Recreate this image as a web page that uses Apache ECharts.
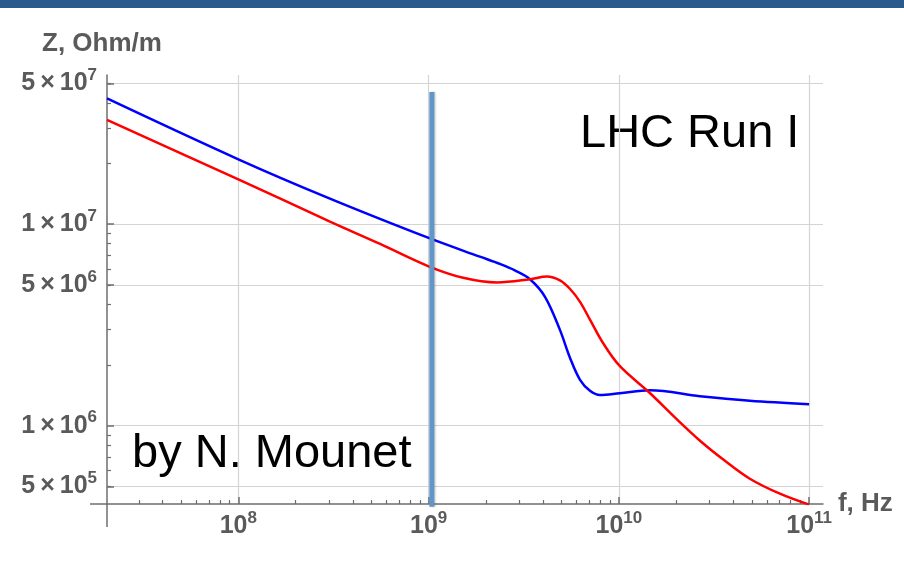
<!DOCTYPE html>
<html>
<head>
<meta charset="utf-8">
<script src="https://cdn.jsdelivr.net/npm/echarts@6.0.0/dist/echarts.min.js"></script>
<style>
  html, body { margin: 0; padding: 0; background: #fff; }
  #chart { width: 904px; height: 564px; }
</style>
</head>
<body>
<div id="chart"></div>
<script>
// 数据 (f in Hz, Z in Ohm/m)
const freqBlue = [2.04e7, 1e8, 3.03e8, 1e9, 1.86e9, 2.37e9, 2.84e9, 3.41e9, 4.09e9, 4.90e9, 5.54e9, 6.25e9, 7.05e9, 7.96e9, 1.01e10, 1.46e10, 2.67e10, 4.88e10, 1e11];
const zBlue = [4.21e7, 2.10e7, 1.34e7, 8.55e6, 6.90e6, 6.35e6, 5.90e6, 5.33e6, 4.36e6, 2.99e6, 2.17e6, 1.69e6, 1.49e6, 1.42e6, 1.45e6, 1.50e6, 1.40e6, 1.33e6, 1.28e6];

const freqRed = [2.04e7, 1e8, 3.03e8, 5.56e8, 1e9, 1.52e9, 2.29e9, 3.41e9, 4.19e9, 4.90e9, 5.54e9, 6.25e9, 7.05e9, 8.24e9, 1.01e10, 1.46e10, 1.97e10, 2.67e10, 3.61e10, 4.88e10, 7.02e10, 1e11];
const zRed = [3.29e7, 1.67e7, 1.03e7, 7.98e6, 6.18e6, 5.42e6, 5.14e6, 5.33e6, 5.50e6, 5.26e6, 4.77e6, 4.12e6, 3.36e6, 2.58e6, 1.98e6, 1.45e6, 1.10e6, 8.43e5, 6.70e5, 5.46e5, 4.60e5, 4.06e5];

// vertical marker near 1 GHz
const markerFreq = [1.04e9, 1.04e9];
const markerZ = [4.53e7, 3.96e5];

// axis ticks
const xTickValues = [1e8, 1e9, 1e10, 1e11];
const yTickValues = [5e5, 1e6, 5e6, 1e7, 5e7];
const fMin = 2.04e7, fMax = 1.183e11;
const zMin = 4.09e5, zMax = 5.5e7;

const lg = Math.log10;
const pairs = (xs, ys) => xs.map((x, i) => [lg(x), lg(ys[i])]);

// minor ticks at k * 10^n
function minorTicks(lo, hi) {
  const out = [];
  for (let n = Math.floor(lo) - 1; n <= Math.ceil(hi); n++) {
    for (let k = 2; k <= 9; k++) {
      const v = lg(k) + n;
      if (v > lo && v < hi) out.push(v);
    }
  }
  return out;
}

const textColor = '#5a5a5a';
const axisColor = '#6e6e6e';
const font = 'Liberation Sans, Arial, sans-serif';

const richLabel = {
  n: { fontSize: 25, fontWeight: 'bold', color: textColor, fontFamily: font },
  s: { fontSize: 17, fontWeight: 'bold', color: textColor, fontFamily: font, padding: [0, 0, 16, 0] }
};

const xMin = lg(fMin), xMax = lg(fMax);
const yMin = lg(zMin), yMax = lg(zMax);

const chart = echarts.init(document.getElementById('chart'));
chart.setOption({
  animation: false,
  backgroundColor: '#fff',
  grid: { left: 107, right: 81, top: 75, bottom: 60, containLabel: false },
  xAxis: [{
    type: 'value',
    min: xMin,
    max: xMax,
    name: 'f, Hz',
    nameLocation: 'end',
    nameGap: 14,
    nameTextStyle: { fontSize: 26, fontWeight: 'bold', color: textColor, fontFamily: font, verticalAlign: 'middle', padding: [0, 0, 6, 0] },
    axisLine: { show: true, lineStyle: { color: axisColor, width: 1.5 } },
    axisTick: { show: true, inside: true, length: 7, customValues: xTickValues.map(lg), lineStyle: { color: axisColor, width: 1.5 } },
    axisLabel: {
      customValues: xTickValues.map(lg),
      margin: 6,
      formatter: v => '{n|10}{s|' + Math.round(v) + '}',
      rich: richLabel
    },
    splitLine: { show: true, lineStyle: { color: '#d4d4d4', width: 1.2 } }
  }, {
    type: 'value',
    position: 'bottom',
    min: xMin,
    max: xMax,
    axisLine: { show: false },
    axisTick: { show: true, inside: true, length: 4, customValues: minorTicks(xMin, xMax), lineStyle: { color: axisColor, width: 1.2 } },
    axisLabel: { show: false },
    splitLine: { show: false }
  }],
  yAxis: [{
    type: 'value',
    min: yMin,
    max: yMax,
    axisLine: { show: true, lineStyle: { color: axisColor, width: 1.5 } },
    axisTick: { show: true, inside: true, length: 7, customValues: yTickValues.map(lg), lineStyle: { color: axisColor, width: 1.5 } },
    axisLabel: {
      customValues: yTickValues.map(lg),
      margin: 10,
      formatter: v => {
        const e = Math.floor(v + 1e-6);
        const m = Math.round(Math.pow(10, v - e));
        return '{n|' + m + '\u2009×\u200910}{s|' + e + '}';
      },
      rich: richLabel
    },
    splitLine: { show: true, lineStyle: { color: '#d4d4d4', width: 1.2 } }
  }, {
    type: 'value',
    position: 'left',
    min: yMin,
    max: yMax,
    axisLine: { show: false },
    axisTick: { show: true, inside: true, length: 4, customValues: minorTicks(yMin, yMax), lineStyle: { color: axisColor, width: 1.2 } },
    axisLabel: { show: false },
    splitLine: { show: false }
  }],
  graphic: [
    { id: 'band', type: 'rect', shape: { x: 0, y: 0, width: 904, height: 8 }, style: { fill: '#2a5a8c' } },
    { id: 'yname', type: 'text', style: { x: 42, y: 44, text: 'Z, Ohm/m', font: 'bold 26px ' + font, fill: textColor, verticalAlign: 'middle' } },
    { id: 'run', type: 'text', style: { x: 580, y: 134, text: 'LHC Run I', font: '47px ' + font, fill: '#000', verticalAlign: 'middle' } },
    { id: 'author', type: 'text', style: { x: 132, y: 454, text: 'by N. Mounet', font: '47px ' + font, fill: '#000', verticalAlign: 'middle' } }
  ],
  series: [{
    name: 'blue',
    type: 'line',
    data: pairs(freqBlue, zBlue),
    smooth: 0.35,
    symbol: 'none',
    lineStyle: { color: '#0000ff', width: 2.5 }
  }, {
    name: 'red',
    type: 'line',
    data: pairs(freqRed, zRed),
    smooth: 0.35,
    symbol: 'none',
    lineStyle: { color: '#ff0000', width: 2.5 }
  }, {
    name: 'marker',
    type: 'line',
    data: pairs(markerFreq, markerZ),
    symbol: 'none',
    clip: false,
    z: 5,
    lineStyle: { color: '#6096c8', width: 5, shadowColor: 'rgba(0,0,0,0.25)', shadowBlur: 2, shadowOffsetX: 1 }
  }]
});

// axis lines run a little past the origin, as in the original
const o = chart.convertToPixel({ xAxisIndex: 0, yAxisIndex: 0 }, [xMin, yMin]);
chart.setOption({
  graphic: [
    { id: 'xext', type: 'line', shape: { x1: o[0] - 17, y1: o[1], x2: o[0], y2: o[1] }, style: { stroke: axisColor, lineWidth: 1.5 } },
    { id: 'yext', type: 'line', shape: { x1: o[0], y1: o[1], x2: o[0], y2: o[1] + 23 }, style: { stroke: axisColor, lineWidth: 1.5 } }
  ]
});
</script>
</body>
</html>
